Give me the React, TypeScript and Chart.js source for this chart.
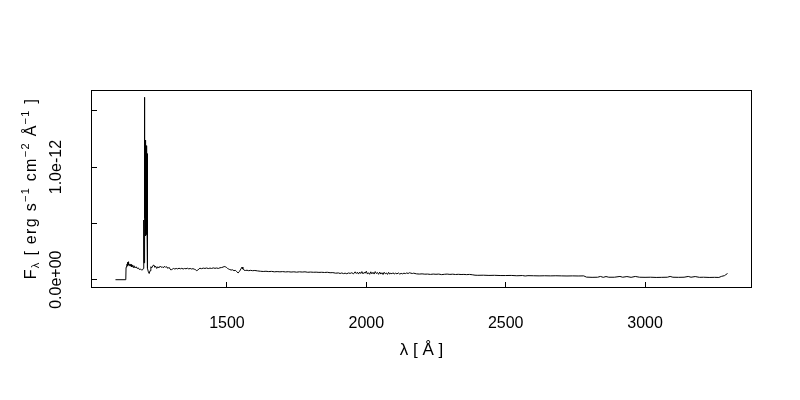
import { useEffect, useRef } from "react";
import { Chart, registerables } from "chart.js";

Chart.register(...registerables);

// Wavelength (Å)
const WAVELENGTH = [
  1100, 1137, 1138, 1140, 1142, 1143, 1144, 1145, 1146, 1147, 1148, 1150, 1152, 1154, 1156, 1158, 1160, 1163, 1166, 1170,
  1174, 1178, 1182, 1186, 1190, 1194, 1198, 1200, 1201.5, 1202.5, 1204, 1205, 1206, 1206.5, 1207, 1207.5, 1208, 1208.5, 1209, 1209.5,
  1210, 1210.5, 1211, 1211.5, 1212, 1212.5, 1213, 1213.5, 1214, 1214.5, 1215, 1215.5, 1218, 1221, 1224, 1227, 1230, 1234, 1238, 1241,
  1244, 1248, 1252, 1256, 1260, 1264, 1268, 1272, 1276, 1280, 1284, 1288, 1292, 1296, 1300, 1304, 1308, 1313, 1318, 1323,
  1328, 1333, 1338, 1343, 1348, 1353, 1358, 1363, 1368, 1373, 1378, 1383, 1388, 1391, 1395, 1399, 1403, 1409, 1415, 1421,
  1427, 1433, 1439, 1445, 1451, 1457, 1463, 1469, 1475, 1481, 1486, 1490, 1494, 1498, 1502, 1506, 1510, 1515, 1520, 1525,
  1530, 1535, 1540, 1545, 1550, 1554, 1557, 1561, 1566, 1572, 1578, 1585, 1592, 1600, 1610, 1620, 1630, 1640, 1650, 1660,
  1670, 1680, 1690, 1700, 1710, 1720, 1730, 1740, 1750, 1760, 1770, 1780, 1790, 1800, 1810, 1820, 1830, 1840, 1850, 1860,
  1870, 1880, 1890, 1900, 1906, 1912, 1918, 1924, 1930, 1936, 1942, 1948, 1954, 1960, 1964, 1968, 1972, 1976, 1980, 1984,
  1988, 1992, 1996, 2000, 2004, 2008, 2012, 2016, 2020, 2024, 2028, 2032, 2036, 2040, 2044, 2048, 2052, 2056, 2060, 2064,
  2068, 2072, 2076, 2080, 2084, 2088, 2092, 2096, 2100, 2105, 2110, 2115, 2120, 2125, 2130, 2135, 2140, 2145, 2150, 2155,
  2160, 2165, 2170, 2180, 2190, 2200, 2210, 2220, 2230, 2240, 2250, 2260, 2270, 2280, 2290, 2300, 2310, 2320, 2330, 2340,
  2350, 2360, 2370, 2380, 2390, 2400, 2420, 2440, 2460, 2480, 2500, 2520, 2540, 2560, 2570, 2580, 2600, 2620, 2640, 2660,
  2680, 2700, 2720, 2740, 2760, 2780, 2790, 2810, 2830, 2840, 2850, 2860, 2870, 2890, 2910, 2920, 2935, 2950, 2965, 2980,
  3000, 3020, 3040, 3060, 3080, 3090, 3100, 3120, 3140, 3155, 3165, 3180, 3195, 3210, 3230, 3250, 3265, 3275, 3285, 3290,
  3296,
];

// Flux in units of 1e-13 erg s^-1 cm^-2 Å^-1
const FLUX_E13 = [
  0, 0, 1.1, 1.25, 1.4, 1.2, 1.55, 1.3, 1.6, 1.3, 1.45, 1.25, 1.4, 1.2, 1.35, 1.15, 1.3, 1.1, 1.25, 1.05,
  1.15, 1.0, 1.05, 0.9, 0.95, 0.85, 0.9, 1.0, 5.3, 1.5, 16.2, 5.5, 12.4, 4.0, 12.2, 3.9, 12.3, 4.1, 12.0, 3.9,
  11.9, 4.0, 11.2, 4.2, 11.3, 4.4, 11.1, 4.3, 11.2, 4.5, 11.0, 1.0, 0.7, 0.55, 0.8, 1.15, 1.05, 1.25, 1.3, 1.1,
  1.2, 1.0, 1.15, 1.05, 1.2, 1.1, 1.15, 1.05, 1.2, 1.1, 1.15, 1.0, 1.1, 0.95, 0.85, 0.95, 1.0, 0.95, 1.0, 0.96,
  1.02, 0.97, 1.01, 0.95, 1.0, 0.97, 1.02, 0.96, 1.0, 0.95, 0.98, 0.93, 0.88, 0.8, 0.84, 0.95, 1.02, 0.98, 1.03, 1.0,
  1.04, 0.99, 1.03, 1.0, 1.05, 1.01, 1.04, 1.0, 1.06, 1.08, 1.12, 1.17, 1.15, 1.1, 1.0, 0.95, 0.9, 0.86, 0.88, 0.8,
  0.83, 0.72, 0.6, 0.74, 0.95, 1.12, 0.95, 0.85, 0.82, 0.84, 0.8, 0.83, 0.8, 0.82, 0.78, 0.75, 0.73, 0.75, 0.72, 0.74,
  0.7, 0.72, 0.7, 0.72, 0.69, 0.71, 0.68, 0.7, 0.67, 0.7, 0.68, 0.7, 0.66, 0.68, 0.66, 0.67, 0.65, 0.66, 0.64, 0.66,
  0.62, 0.63, 0.58, 0.6, 0.55, 0.6, 0.54, 0.58, 0.53, 0.6, 0.56, 0.62, 0.52, 0.7, 0.55, 0.66, 0.5, 0.68, 0.55, 0.72,
  0.52, 0.65, 0.58, 0.75, 0.5, 0.62, 0.48, 0.7, 0.52, 0.66, 0.5, 0.72, 0.55, 0.64, 0.48, 0.68, 0.5, 0.62, 0.46, 0.66,
  0.52, 0.6, 0.47, 0.65, 0.5, 0.58, 0.52, 0.62, 0.5, 0.58, 0.52, 0.6, 0.5, 0.56, 0.52, 0.58, 0.54, 0.6, 0.55, 0.62,
  0.58, 0.55, 0.58, 0.52, 0.5, 0.52, 0.49, 0.5, 0.47, 0.5, 0.48, 0.5, 0.45, 0.48, 0.5, 0.47, 0.49, 0.46, 0.48, 0.46,
  0.47, 0.45, 0.47, 0.44, 0.4, 0.39, 0.4, 0.38, 0.39, 0.37, 0.37, 0.38, 0.35, 0.37, 0.33, 0.36, 0.35, 0.34, 0.35, 0.34,
  0.35, 0.34, 0.33, 0.34, 0.33, 0.34, 0.23, 0.21, 0.22, 0.29, 0.21, 0.28, 0.22, 0.22, 0.29, 0.22, 0.28, 0.21, 0.29, 0.22,
  0.21, 0.22, 0.2, 0.21, 0.22, 0.29, 0.22, 0.21, 0.22, 0.29, 0.22, 0.28, 0.21, 0.22, 0.2, 0.21, 0.2, 0.3, 0.36, 0.45,
  0.55,
];

const X_TICKS = [1500, 2000, 2500, 3000];
const X_TICK_LABELS = ["1500", "2000", "2500", "3000"];
const Y_TICKS = [0, 5e-13, 1e-12, 1.5e-12];
const Y_TICK_LABELS = ["0.0e+00", "", "1.0e-12", ""];
const X_MIN = 1012.2;
const X_MAX = 3383.8;
const Y_MIN = -6.48e-14;
const Y_MAX = 1.6848e-12;
const X_TITLE = "λ [ Å ]";
// [text, level] : 0 normal, 1 superscript, -1 subscript
const Y_TITLE_PARTS: [string, number][] = [
  ["F", 0],
  ["λ", -1],
  [" [ erg s", 0],
  ["−1", 1],
  [" cm", 0],
  ["−2", 1],
  [" Å", 0],
  ["−1", 1],
  [" ]", 0],
];

const FONT = '"Liberation Sans", Arial, Helvetica, sans-serif';

export default function App() {
  const ref = useRef<HTMLCanvasElement>(null);

  useEffect(() => {
    document.body.style.margin = "0";
    const canvas = ref.current!;

    const decorPlugin = {
      id: "decor",
      afterDraw(chart: any) {
        const { ctx, chartArea: a } = chart;
        const ys = chart.scales.y;
        ctx.save();
        // frame
        ctx.strokeStyle = "#000";
        ctx.lineWidth = 1;
        ctx.strokeRect(a.left + 0.5, a.top + 0.5, a.right - a.left - 1, a.bottom - a.top);
        // y tick labels (parallel to axis)
        ctx.fillStyle = "#000";
        ctx.font = `16px ${FONT}`;
        ctx.textAlign = "center";
        ctx.textBaseline = "alphabetic";
        ys.ticks.forEach((t: any, i: number) => {
          const lab = Y_TICK_LABELS[i];
          if (!lab) return;
          const py = ys.getPixelForValue(t.value);
          ctx.save();
          ctx.translate(61, py);
          ctx.rotate(-Math.PI / 2);
          ctx.fillText(lab, 0, 0);
          ctx.restore();
        });
        // y title with sub/superscripts
        const fontFor = (lvl: number) => (lvl === 0 ? `16px ${FONT}` : `11px ${FONT}`);
        const spacing = 1.3;
        let total = 0;
        const widths = Y_TITLE_PARTS.map(([t, l]) => {
          ctx.font = fontFor(l);
          const w = ctx.measureText(t).width + spacing * t.length;
          total += w;
          return w;
        });
        const cy = (a.top + a.bottom) / 2;
        ctx.save();
        ctx.translate(36, cy);
        ctx.rotate(-Math.PI / 2);
        ctx.textAlign = "left";
        let cx = -total / 2;
        Y_TITLE_PARTS.forEach(([t, l], i) => {
          ctx.font = fontFor(l);
          const dy = l === 1 ? -7 : l === -1 ? 3 : 0;
          // draw character by character with extra tracking
          let px = cx;
          for (const ch of t) {
            ctx.fillText(ch, px, dy);
            px += ctx.measureText(ch).width + spacing;
          }
          cx += widths[i];
        });
        ctx.restore();
        ctx.restore();
      },
    };

    const points = WAVELENGTH.map((w, i) => ({ x: w, y: FLUX_E13[i] * 1e-13 }));

    const chart = new Chart(canvas, {
      type: "line",
      data: {
        datasets: [
          {
            data: points,
            borderColor: "#000",
            borderWidth: 1,
            pointRadius: 0,
            tension: 0,
            fill: false,
          },
        ],
      },
      options: {
        responsive: false,
        animation: false,
        devicePixelRatio: 1,
        layout: { padding: { top: 90, right: 48, left: 0, bottom: 0 } },
        plugins: {
          legend: { display: false },
          tooltip: { enabled: false },
        },
        scales: {
          x: {
            type: "linear",
            min: X_MIN,
            max: X_MAX,
            afterBuildTicks: (s: any) => {
              s.ticks = X_TICKS.map((v) => ({ value: v }));
            },
            afterFit: (s: any) => {
              s.height = 113;
            },
            ticks: {
              callback: (v: any) => {
                const i = X_TICKS.indexOf(Number(v));
                return i >= 0 ? X_TICK_LABELS[i] : "";
              },
              color: "#000",
              font: { family: FONT, size: 16 },
              padding: 32,
              maxRotation: 0,
              minRotation: 0,
              autoSkip: false,
            },
            grid: { drawOnChartArea: false, drawTicks: true, tickLength: -5, color: "#000", lineWidth: 1 },
            border: { display: false },
            title: {
              display: true,
              text: X_TITLE,
              color: "#000",
              font: { family: FONT, size: 17 },
              padding: { top: 0, bottom: 39 },
            },
          },
          y: {
            type: "linear",
            min: Y_MIN,
            max: Y_MAX,
            afterBuildTicks: (s: any) => {
              s.ticks = Y_TICKS.map((v) => ({ value: v }));
            },
            afterFit: (s: any) => {
              s.width = 91;
            },
            ticks: { display: false },
            grid: { drawOnChartArea: false, drawTicks: true, tickLength: -6, color: "#000", lineWidth: 1 },
            border: { display: false },
          },
        },
      },
      plugins: [decorPlugin],
    } as any);

    return () => chart.destroy();
  }, []);

  return (
    <div style={{ width: 800, height: 400 }}>
      <canvas ref={ref} width={800} height={400} style={{ display: "block" }} />
    </div>
  );
}
